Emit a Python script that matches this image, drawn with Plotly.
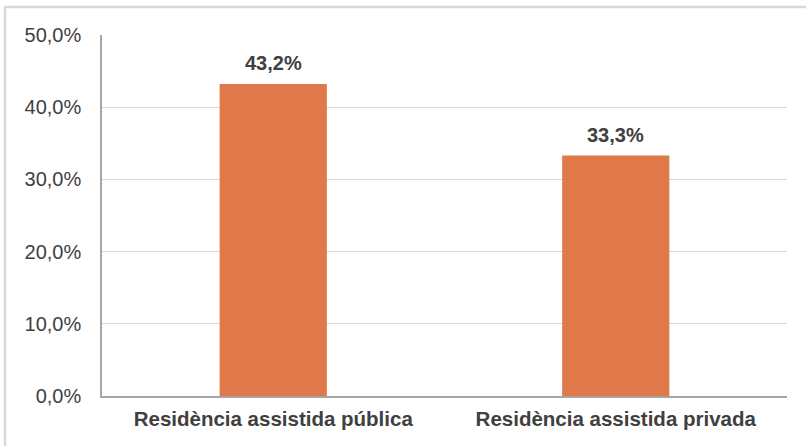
import plotly.graph_objects as go

categories = ["Residència assistida pública", "Residència assistida privada"]
values = [43.2, 33.3]
value_labels = ["43,2%", "33,3%"]
tick_vals = [0, 10, 20, 30, 40, 50]
tick_text = ["0,0%", "10,0%", "20,0%", "30,0%", "40,0%", "50,0%"]

BAR_COLOR = "#E07949"
TEXT_COLOR = "#404040"
FONT = "Liberation Sans, Arial, sans-serif"

fig = go.Figure()
fig.add_trace(go.Bar(
    x=categories, y=values,
    marker=dict(color=BAR_COLOR, line=dict(width=0)),
    hoverinfo="skip",
))

for c, v, t in zip(categories, values, value_labels):
    fig.add_annotation(
        x=c, y=v, text="<b>%s</b>" % t, showarrow=False,
        yanchor="bottom", yshift=8,
        font=dict(family=FONT, size=20, color=TEXT_COLOR),
    )

# outer chart frame
fig.add_shape(type="rect", xref="paper", yref="paper",
              x0=-0.1416, x1=1.2, y0=-0.3, y1=1.0776,
              line=dict(color="#D9D9D9", width=2.5), fillcolor="rgba(0,0,0,0)",
              layer="below")

fig.update_layout(
    width=806, height=446,
    margin=dict(l=102, r=19, t=35, b=50),
    paper_bgcolor="white", plot_bgcolor="white",
    bargap=0.687,
    showlegend=False,
    font=dict(family=FONT, color=TEXT_COLOR),
    xaxis=dict(
        showline=True, linecolor="#A6A6A6", linewidth=1.5,
        showgrid=False, ticks="",
        tickfont=dict(family=FONT, size=20.5, color=TEXT_COLOR),
        ticklabelstandoff=4,
        tickvals=categories,
        ticktext=["<b>%s</b>" % c for c in categories],
        fixedrange=True,
    ),
    yaxis=dict(
        range=[0, 50], tickvals=tick_vals, ticktext=tick_text,
        showline=True, linecolor="#A6A6A6", linewidth=1.5,
        showgrid=True, gridcolor="#D9D9D9", gridwidth=1.2,
        zeroline=False, ticks="",
        ticklabelstandoff=15,
        tickfont=dict(family=FONT, size=20, color=TEXT_COLOR),
        fixedrange=True,
    ),
)

fig.write_html(
    "out.html",
    config={"displayModeBar": False},
    post_script="document.body.style.margin='0';document.body.style.overflow='hidden';",
)
